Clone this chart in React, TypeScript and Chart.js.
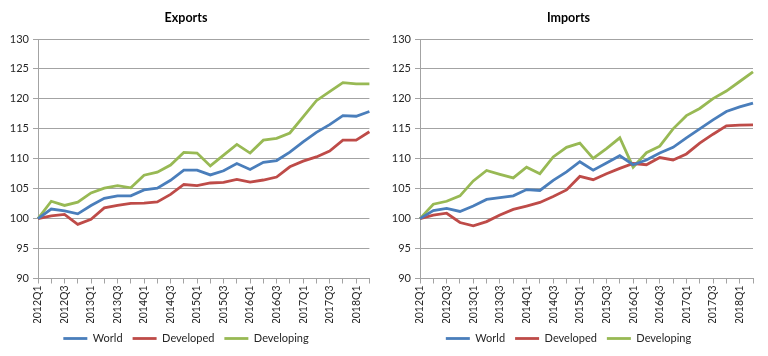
import React, { useEffect, useRef } from 'react';
import { Chart, registerables } from 'chart.js';

Chart.register(...registerables);

const quarters = [
  '2012Q1', '2012Q2', '2012Q3', '2012Q4',
  '2013Q1', '2013Q2', '2013Q3', '2013Q4',
  '2014Q1', '2014Q2', '2014Q3', '2014Q4',
  '2015Q1', '2015Q2', '2015Q3', '2015Q4',
  '2016Q1', '2016Q2', '2016Q3', '2016Q4',
  '2017Q1', '2017Q2', '2017Q3', '2017Q4',
  '2018Q1', '2018Q2',
];

const seriesNames = ['World', 'Developed', 'Developing'];
const seriesColors = ['#4A7EBB', '#BE4B48', '#98B954'];

const exportsWorld = [100, 101.6, 101.3, 100.8, 102.2, 103.4, 103.8, 103.8, 104.8, 105.1, 106.4, 108.1, 108.1, 107.3, 108.0, 109.2, 108.2, 109.4, 109.7, 111.1, 112.8, 114.4, 115.7, 117.2, 117.1, 117.9];
const exportsDeveloped = [100, 100.45, 100.7, 99.05, 99.9, 101.8, 102.2, 102.55, 102.6, 102.8, 104.05, 105.7, 105.5, 105.95, 106.05, 106.55, 106.1, 106.45, 106.95, 108.65, 109.6, 110.3, 111.3, 113.1, 113.1, 114.5];
const exportsDeveloping = [100, 102.9, 102.2, 102.75, 104.3, 105.1, 105.5, 105.15, 107.25, 107.75, 108.95, 111.05, 110.95, 108.8, 110.6, 112.4, 110.95, 113.1, 113.4, 114.3, 117.0, 119.7, 121.2, 122.7, 122.5, 122.5];

const importsWorld = [100, 101.35, 101.7, 101.2, 102.1, 103.2, 103.5, 103.8, 104.85, 104.7, 106.4, 107.8, 109.5, 108.1, 109.3, 110.5, 109.0, 109.8, 110.95, 111.9, 113.5, 115.0, 116.5, 117.9, 118.65, 119.3];
const importsDeveloped = [100, 100.6, 100.9, 99.35, 98.8, 99.5, 100.6, 101.55, 102.1, 102.7, 103.7, 104.8, 107.05, 106.5, 107.5, 108.4, 109.2, 109.0, 110.2, 109.8, 110.8, 112.6, 114.1, 115.5, 115.6, 115.65];
const importsDeveloping = [100, 102.4, 102.9, 103.8, 106.3, 108.05, 107.4, 106.8, 108.6, 107.5, 110.3, 111.9, 112.6, 110.05, 111.7, 113.5, 108.6, 111.0, 112.1, 115.0, 117.2, 118.4, 120.05, 121.3, 122.9, 124.5];

const yMin = 90;
const yMax = 130;
const yStep = 5;

const FONT = 'Lato, "Open Sans", sans-serif';
const GRID = '#A3A3A3';
const TEXT = '#262626';

function makeConfig(title: string, data: number[][], yWidth: number, rightPad: number): any {
  return {
    type: 'line',
    data: {
      labels: quarters,
      datasets: data.map((d, i) => ({
        label: seriesNames[i],
        data: d,
        borderColor: seriesColors[i],
        backgroundColor: seriesColors[i],
        borderWidth: 2.8,
        pointRadius: 0,
        tension: 0,
        fill: false,
      })),
    },
    options: {
      responsive: true,
      maintainAspectRatio: false,
      animation: false,
      layout: { padding: { left: 0, right: rightPad, top: 0, bottom: 2 } },
      plugins: {
        title: {
          display: true,
          text: title,
          color: '#000',
          font: { family: FONT, size: 12.5, weight: 'bold' },
          padding: { top: 10, bottom: 14 },
        },
        legend: {
          display: true,
          position: 'bottom',
          labels: {
            usePointStyle: true,
            pointStyle: 'line',
            pointStyleWidth: 24,
            boxHeight: 11,
            padding: 10,
            color: TEXT,
            font: { family: FONT, size: 11 },
          },
        },
        tooltip: { enabled: false },
      },
      scales: {
        x: {
          offset: false,
          grid: {
            display: true,
            drawOnChartArea: false,
            drawTicks: true,
            tickLength: 5,
            color: GRID,
          },
          border: { display: true, color: GRID, width: 1 },
          ticks: {
            autoSkip: false,
            minRotation: 90,
            maxRotation: 90,
            padding: 2,
            color: TEXT,
            font: { family: FONT, size: 10.5 },
            callback: (_v: any, i: number) => (i % 2 === 0 ? quarters[i] : ''),
          },
          afterFit: (scale: any) => {
            scale.height = 44.5;
          },
        },
        y: {
          min: yMin,
          max: yMax,
          grid: {
            color: GRID,
            drawTicks: true,
            tickLength: 5,
          },
          border: { display: true, color: GRID, width: 1 },
          ticks: {
            stepSize: yStep,
            padding: 4,
            color: TEXT,
            font: { family: FONT, size: 11 },
          },
          afterFit: (scale: any) => {
            scale.width = yWidth;
          },
        },
      },
    },
  };
}

function Panel(props: { left: number; title: string; data: number[][]; yWidth: number; rightPad: number }) {
  const ref = useRef<HTMLCanvasElement | null>(null);
  useEffect(() => {
    if (!ref.current) return;
    const chart = new Chart(ref.current, makeConfig(props.title, props.data, props.yWidth, props.rightPad));
    return () => chart.destroy();
  }, []);
  return (
    <div style={{ position: 'absolute', left: props.left, top: 0, width: 384, height: 356 }}>
      <canvas ref={ref} />
    </div>
  );
}

export default function App() {
  return (
    <div style={{ position: 'absolute', left: 0, top: 0, width: 768, height: 356, background: '#fff' }}>
      <Panel left={0} title="Exports" data={[exportsWorld, exportsDeveloped, exportsDeveloping]} yWidth={38} rightPad={12} />
      <Panel left={384} title="Imports" data={[importsWorld, importsDeveloped, importsDeveloping]} yWidth={36} rightPad={15} />
    </div>
  );
}
